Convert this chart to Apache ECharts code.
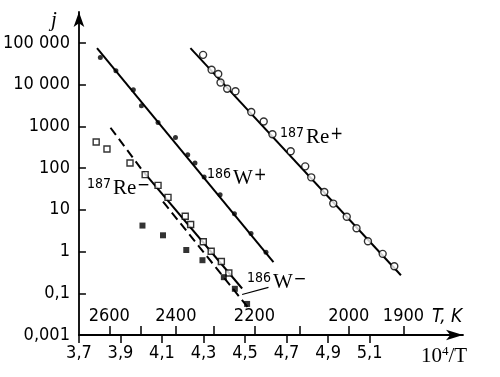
<!DOCTYPE html>
<html>
<head>
<meta charset="utf-8">
<script src="https://cdn.jsdelivr.net/npm/echarts@6/dist/echarts.min.js"></script>
<style>
  html, body { margin: 0; padding: 0; background: #fff; }
  #chart { width: 500px; height: 377px; }
</style>
</head>
<body>
<div id="chart"></div>
<script>
// axis ticks
var xTicks = [3.7, 3.9, 4.1, 4.3, 4.5, 4.7, 4.9, 5.1];
var tempTicks = [2600, 2500, 2400, 2300, 2200, 2100, 2000, 1900];
var tempLabels = [2600, 2400, 2200, 2000, 1900];
var yTicks = [0.01, 0.1, 1, 10, 100, 1000, 10000, 100000];
var yTickLabels = ['0,001', '0,1', '1', '10', '100', '1000', '10 000', '100 000'];

// 186W+ (filled dots)
var wPlus = [[3.803, 44500], [3.878, 21400], [3.962, 7500], [4.001, 3110], [4.081, 1240], [4.165, 542],
  [4.224, 209], [4.259, 132], [4.303, 61], [4.380, 23], [4.449, 8.0], [4.529, 2.7], [4.601, 0.96]];
var wPlusFit = [[3.787, 74700], [4.637, 0.555]];

// 187Re+ (open circles)
var rePlus = [[4.298, 51600], [4.339, 22800], [4.371, 17900], [4.382, 11200], [4.414, 7940], [4.454, 6920],
  [4.530, 2200], [4.590, 1310], [4.632, 647], [4.720, 253], [4.790, 110], [4.819, 60], [4.882, 26.8],
  [4.925, 14.1], [4.990, 6.8], [5.037, 3.6], [5.092, 1.76], [5.163, 0.88], [5.219, 0.445]];
var rePlusFit = [[4.237, 74700], [5.251, 0.271]];

// 187Re- (open squares)
var reMinus = [[3.783, 421], [3.835, 286], [3.946, 132], [4.019, 69.5], [4.081, 38.5], [4.129, 19.9],
  [4.212, 7.0], [4.238, 4.43], [4.299, 1.71], [4.337, 1.02], [4.386, 0.577], [4.422, 0.306]];
var reMinusFit = [[4.010, 82], [4.486, 0.130]];
var reMinusExtrap = [[3.852, 926], [4.010, 82]];

// 186W- (filled squares)
var wMinus = [[4.006, 4.19], [4.105, 2.45], [4.217, 1.09], [4.295, 0.62], [4.398, 0.243], [4.451, 0.128], [4.510, 0.0555]];
var wMinusFit = [[4.105, 15.7], [4.514, 0.0457]];
var wMinusLeader = [[4.486, 0.0935], [4.613, 0.138]];

var sans = "'Liberation Sans Narrow', 'DejaVu Sans Condensed', sans-serif";
var serif = "'Liberation Serif', 'DejaVu Serif', serif";

var chart = echarts.init(document.getElementById('chart'));

function fitLine(data, dashed) {
  return {
    type: 'line',
    data: data,
    symbol: 'none',
    silent: true,
    lineStyle: { color: '#000', width: 2, type: dashed ? [9, 5] : 'solid' },
    z: 2
  };
}

function marks(data, symbol, size, filled) {
  return {
    type: 'scatter',
    data: data,
    symbol: symbol,
    symbolSize: size,
    itemStyle: filled
      ? { color: '#000' }
      : { color: '#fff', borderColor: '#000', borderWidth: 1.4 },
    z: 3
  };
}

function label(left, top, num, name, sign) {
  return {
    type: 'text',
    left: left,
    top: top,
    style: {
      text: '{n|' + num + '}{r|' + name + '}{p|' + sign + '}',
      rich: {
        n: { fontFamily: sans, fontSize: 14, color: '#000', verticalAlign: 'top', lineHeight: 22 },
        r: { fontFamily: serif, fontSize: 21, color: '#000', verticalAlign: 'bottom', lineHeight: 22, padding: [0, 1, 0, 2] },
        p: { fontFamily: sans, fontSize: 17, color: '#000', verticalAlign: 'top', lineHeight: 22 }
      }
    }
  };
}

chart.setOption({
  animation: false,
  backgroundColor: '#fff',
  grid: { left: 75, right: 37, top: 12, bottom: 42 },
  xAxis: [{
    type: 'value',
    min: 3.7,
    max: 5.55,
    splitLine: { show: false },
    axisLine: { symbol: ['none', 'arrow'], symbolSize: [8, 17], lineStyle: { color: '#000', width: 1.8 } },
    axisTick: { customValues: xTicks, length: 8, lineStyle: { color: '#000', width: 1.5 } },
    axisLabel: {
      customValues: xTicks,
      margin: 9,
      color: '#000',
      fontFamily: sans,
      fontSize: 18,
      formatter: function (v) { return v.toFixed(1).replace('.', ','); }
    }
  }, {
    type: 'value',
    min: 3.7,
    max: 5.55,
    position: 'bottom',
    splitLine: { show: false },
    axisLine: { show: false },
    axisTick: { inside: true, customValues: tempTicks.map(function (t) { return 1e4 / t; }), length: 9, lineStyle: { color: '#000', width: 1.5 } },
    axisLabel: {
      inside: true,
      customValues: tempLabels.map(function (t) { return 1e4 / t; }),
      margin: 10,
      color: '#000',
      fontFamily: sans,
      fontSize: 18,
      formatter: function (v) { return String(Math.round(1e4 / v)); }
    }
  }],
  yAxis: {
    type: 'log',
    logBase: 10,
    min: 0.01,
    max: 549541,
    splitLine: { show: false },
    axisLine: { symbol: ['none', 'arrow'], symbolSize: [8, 15], lineStyle: { color: '#000', width: 1.8 } },
    axisTick: { inside: true, customValues: yTicks, length: 7, lineStyle: { color: '#000', width: 1.5 } },
    axisLabel: {
      customValues: yTicks,
      margin: 9,
      color: '#000',
      fontFamily: sans,
      fontSize: 18,
      formatter: function (v) { return yTickLabels[Math.round(Math.log10(v)) + 2]; }
    }
  },
  graphic: [
    { type: 'text', left: 51, top: 10, style: { text: 'j', font: 'italic 21px ' + serif, fill: '#000' } },
    {
      type: 'text', left: 421, top: 345,
      style: {
        text: '{a|10}{s|4}{a|/T}',
        rich: {
          a: { fontFamily: serif, fontSize: 21, color: '#000', verticalAlign: 'bottom', lineHeight: 22 },
          s: { fontFamily: serif, fontSize: 13, color: '#000', verticalAlign: 'top', lineHeight: 22 }
        }
      }
    },
    { type: 'text', left: 432, top: 308, style: { text: 'T, K', font: 'italic 19px ' + sans, fill: '#000' } },
    label(280, 126, '187', 'Re', '+'),
    label(207, 167, '186', 'W', '+'),
    label(87, 177, '187', 'Re', '\u2212'),
    label(247, 271, '186', 'W', '\u2212')
  ],
  series: [
    fitLine(wPlusFit, false),
    fitLine(rePlusFit, false),
    fitLine(reMinusFit, false),
    fitLine(reMinusExtrap, true),
    fitLine(wMinusFit, true),
    {
      type: 'line', data: wMinusLeader, symbol: 'none', silent: true,
      lineStyle: { color: '#000', width: 1.2 }
    },
    marks(wPlus, 'circle', 5, true),
    marks(rePlus, 'circle', 7, false),
    marks(reMinus, 'rect', 6, false),
    marks(wMinus, 'rect', 6, true)
  ]
});
</script>
</body>
</html>
